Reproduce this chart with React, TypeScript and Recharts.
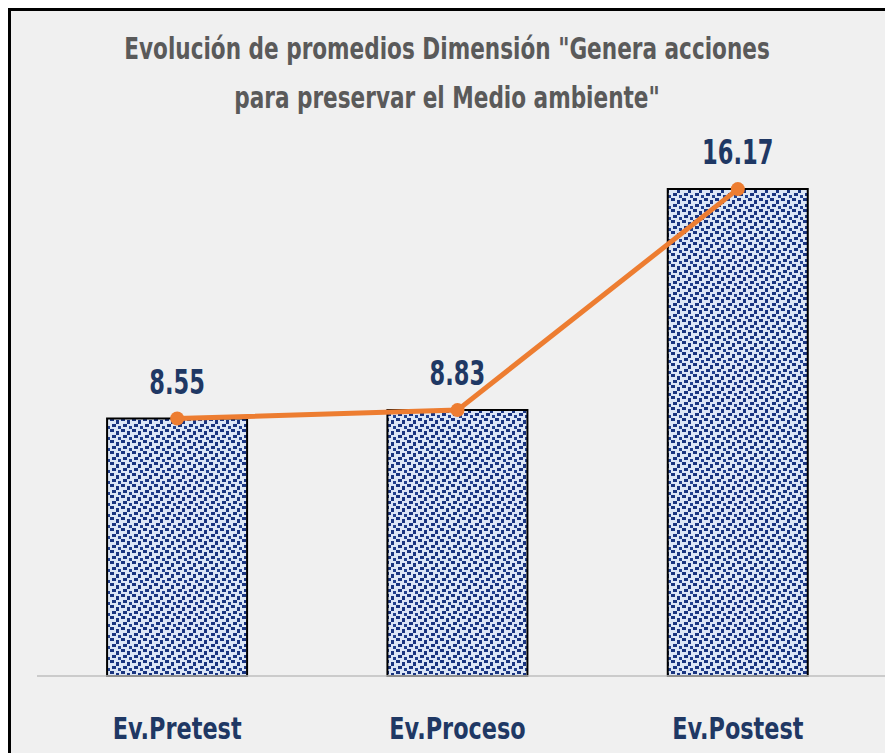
import { ComposedChart, Bar, Line, XAxis, YAxis, LabelList } from "recharts";

const categories = ["Ev.Pretest", "Ev.Proceso", "Ev.Postest"];
const promedios = [8.55, 8.83, 16.17];
const titleLines = [
  'Evolución de promedios Dimensión "Genera acciones',
  'para preservar el Medio ambiente"',
];

const data = categories.map((name, i) => ({ name, value: promedios[i] }));

const FONT = '"DejaVu Sans Condensed", "Liberation Sans Narrow", "Noto Sans", sans-serif';
const NAVY = "#1f3864";

// narrow, tall text like the original's condensed font
const TallText = ({ x, y, size, sx, children }: any) => (
  <text
    transform={`translate(${x},${y}) scale(${sx},1)`}
    textAnchor="middle"
    dominantBaseline="central"
    fill={NAVY}
    fontFamily={FONT}
    fontWeight="bold"
    fontSize={size}
  >
    {children}
  </text>
);

const CategoryTick = (props: any) => {
  const { x, y, payload } = props;
  return (
    <TallText x={x} y={y + 44} size={30} sx={0.83}>
      {payload.value}
    </TallText>
  );
};

const ValueLabel = (props: any) => {
  const { x, y, width, value } = props;
  return (
    <TallText x={x + width / 2} y={y - 36} size={33} sx={0.76}>
      {value.toFixed(2)}
    </TallText>
  );
};

export default function App() {
  return (
    <div
      style={{
        position: "relative",
        width: 882,
        height: 742,
        background: "#f0f0f0",
        borderTop: "3px solid #000",
        borderLeft: "3px solid #000",
      }}
    >
      <div
        style={{
          position: "absolute",
          left: 0,
          top: 13,
          width: 872,
          textAlign: "center",
          fontFamily: FONT,
          fontWeight: "bold",
          fontSize: 30,
          lineHeight: "49px",
          color: "#5a5a5a",
          transform: "scaleX(0.8)",
          transformOrigin: "436px 0",
          whiteSpace: "nowrap",
        }}
      >
        {titleLines.map((t) => (
          <div key={t}>{t}</div>
        ))}
      </div>
      <ComposedChart
        width={882}
        height={742}
        data={data}
        margin={{ top: 123, right: 0, bottom: 0, left: 26 }}
        barCategoryGap="25%"
      >
        <defs>
          <pattern id="dots" width="11" height="11" patternUnits="userSpaceOnUse">
            <rect width="11" height="11" fill="#dce6f6" />
            <rect x="0" y="0" width="4" height="3" fill="#1a3580" />
            <rect x="6" y="2" width="3" height="4" fill="#1a3580" />
            <rect x="2" y="6" width="4" height="3" fill="#1a3580" />
            <rect x="8" y="8" width="3" height="3" fill="#22418f" />
          </pattern>
        </defs>
        <XAxis
          dataKey="name"
          height={77}
          tickLine={false}
          axisLine={{ stroke: "#bfbfbf", strokeWidth: 1.5 }}
          tick={<CategoryTick />}
          padding={{ left: 0, right: 15 }}
          interval={0}
        />
        <YAxis hide domain={[0, 18]} />
        <Bar
          dataKey="value"
          fill="url(#dots)"
          stroke="#000"
          strokeWidth={2}
          isAnimationActive={false}
        >
          <LabelList dataKey="value" content={<ValueLabel />} />
        </Bar>
        <Line
          dataKey="value"
          stroke="#ed7d31"
          strokeWidth={5}
          dot={{ r: 7, fill: "#ed7d31", stroke: "#ed7d31", strokeWidth: 0 }}
          activeDot={false}
          isAnimationActive={false}
        />
      </ComposedChart>
    </div>
  );
}
